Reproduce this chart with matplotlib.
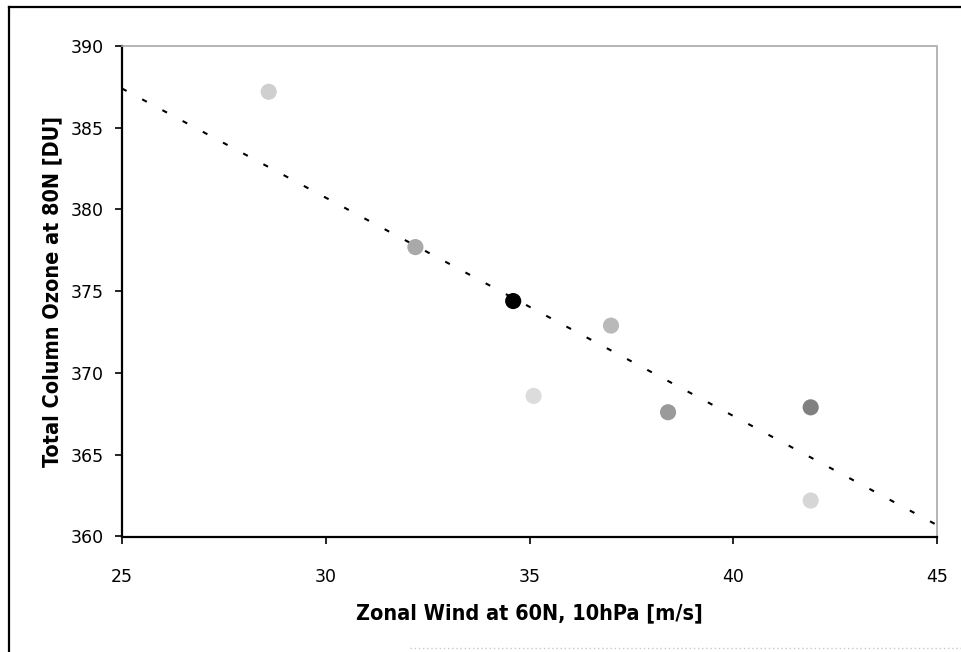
import numpy as np
import matplotlib.pyplot as plt
from matplotlib.lines import Line2D

# data
wind = [28.6, 32.2, 34.6, 37.0, 35.1, 38.4, 41.9, 41.9]
ozone = [387.2, 377.7, 374.4, 372.9, 368.6, 367.6, 367.9, 362.2]
shades = ['#cfcfcf', '#a9a9a9', '#000000', '#b9b9b9', '#dcdcdc', '#9a9a9a', '#808080', '#d6d6d6']

trend_x = [25, 45]
trend_y = [387.4, 360.7]

xticks = [25, 30, 35, 40, 45]
yticks = [360, 365, 370, 375, 380, 385, 390]

fig = plt.figure(figsize=(9.61, 6.52), dpi=100)
ax = fig.add_axes([122/961, 1 - 536.5/652, (937-122)/961, (536.5-46)/652])

ax.plot(trend_x, trend_y, color='black', linestyle=(0, (2.5, 8.5)), linewidth=1.5, zorder=2)
ax.scatter(wind, ozone, s=135, c=shades, edgecolors='none', zorder=3)

ax.set_xlim(25, 45)
ax.set_ylim(360, 390)
ax.set_xticks(xticks)
ax.set_yticks(yticks)
ax.tick_params(direction='out', length=5, width=1.2, labelsize=12.5, pad=8)
ax.tick_params(axis='x', pad=18)

for side in ['left', 'bottom']:
    ax.spines[side].set_linewidth(1.6)
for side in ['top', 'right']:
    ax.spines[side].set_color('#a8a8a8')
    ax.spines[side].set_linewidth(1.2)
    ax.spines[side].set_linestyle((0, (1, 1)))

lab = dict(fontsize=15.5, fontweight='heavy', stretch='condensed', family='DejaVu Sans')
ax.set_xlabel('Zonal Wind at 60N, 10hPa [m/s]', labelpad=12, **lab)
ax.set_ylabel('Total Column Ozone at 80N [DU]', labelpad=6, **lab)

# outer chart frame (left and top edges, faint bottom)
fig.add_artist(Line2D([9/961, 9/961], [0, 1 - 7/652], color='black', linewidth=1.6))
fig.add_artist(Line2D([9/961, 1], [1 - 7/652, 1 - 7/652], color='black', linewidth=1.6))
fig.add_artist(Line2D([410/961, 1], [1 - 648/652, 1 - 648/652], color='#c8c8c8',
                      linewidth=1.0, linestyle=(0, (1, 2))))

plt.savefig('out.png', dpi=100)
